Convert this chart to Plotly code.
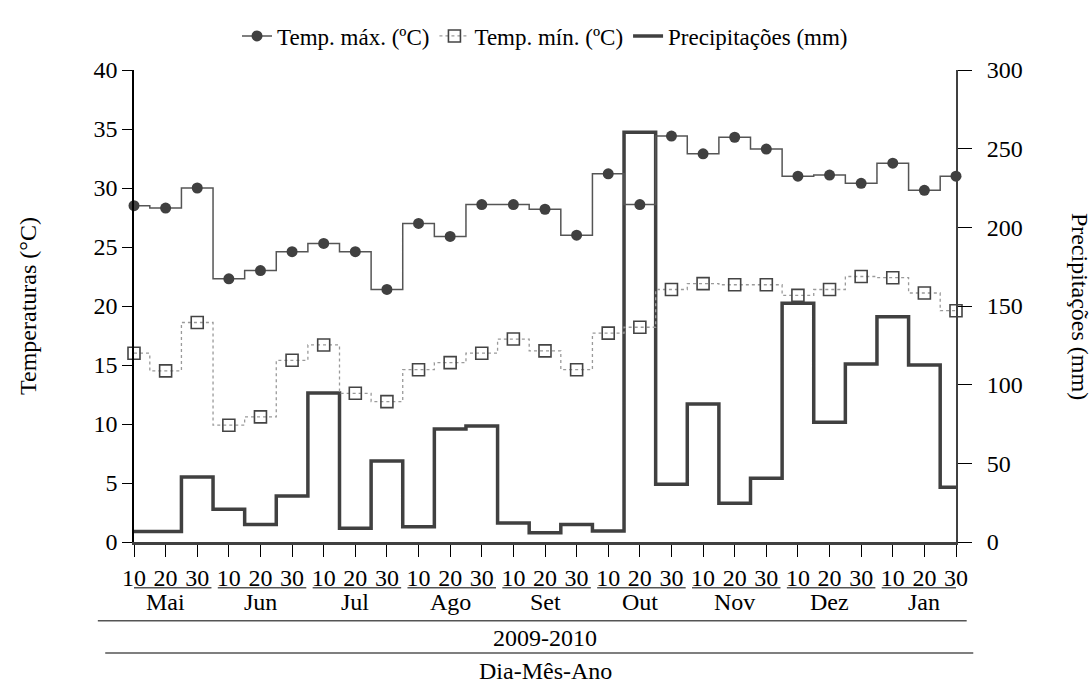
import plotly.graph_objects as go

# ---- data ----
months = ["Mai", "Jun", "Jul", "Ago", "Set", "Out", "Nov", "Dez", "Jan"]
days = ["10", "20", "30"]
tmax = [28.5, 28.3, 30.0, 22.3, 23.0, 24.6, 25.3, 24.6, 21.4, 27.0, 25.9, 28.6, 28.6, 28.2,
        26.0, 31.2, 28.6, 34.4, 32.9, 34.3, 33.3, 31.0, 31.1, 30.4, 32.1, 29.8, 31.0]
tmin = [16.0, 14.5, 18.6, 9.9, 10.6, 15.4, 16.7, 12.6, 11.9, 14.6, 15.2, 16.0, 17.2, 16.2,
        14.6, 17.7, 18.2, 21.4, 21.9, 21.8, 21.8, 20.9, 21.4, 22.5, 22.4, 21.1, 19.6]
precip = [6.6, 6.6, 41.3, 20.8, 11.2, 29.2, 94.7, 8.7, 51.5, 9.7, 71.8, 73.7, 12.1, 5.9,
          11.2, 7.0, 260.5, 36.7, 87.7, 24.6, 40.5, 151.7, 76.1, 113.2, 143.2, 112.5, 34.8]
period_label = "2009-2010"
xaxis_title = "Dia-Mês-Ano"
ytitle_left = "Temperaturas (°C)"
ytitle_right = "Precipitações (mm)"

x = list(range(len(tmax)))
ticktext = [d for _ in months for d in days]

FONT = "Liberation Serif, Times New Roman, serif"
DARK = "#404040"

fig = go.Figure()
fig.add_trace(go.Scatter(
    x=x, y=precip, name="Precipitações (mm)", mode="lines", yaxis="y",
    line=dict(color=DARK, width=3.5, shape="hvh"), legendrank=3, cliponaxis=False))
fig.add_trace(go.Scatter(
    x=x, y=tmin, name="Temp. mín. (ºC)", mode="lines+markers", yaxis="y2",
    line=dict(color="#9a9a9a", width=1.3, dash="dot", shape="hvh"),
    marker=dict(symbol="square-open", size=12, color="#444444", line=dict(width=1.6)),
    legendrank=2, cliponaxis=False))
fig.add_trace(go.Scatter(
    x=x, y=tmax, name="Temp. máx. (ºC)", mode="lines+markers", yaxis="y2",
    line=dict(color="#555555", width=1.5, shape="hvh"),
    marker=dict(symbol="circle", size=11, color=DARK),
    legendrank=1, cliponaxis=False))

fig.update_layout(
    width=1092, height=686,
    margin=dict(l=134, r=136, t=70, b=144),
    paper_bgcolor="white", plot_bgcolor="white",
    font=dict(family=FONT, size=24, color="black"),
    showlegend=True,
    legend=dict(orientation="h", x=0.5, xanchor="center", y=1.072, yanchor="middle",
                font=dict(size=23), itemwidth=30, tracegroupgap=0),
    xaxis=dict(range=[0, 26], tickvals=x, ticktext=ticktext, ticks="outside", ticklen=12,
               tickwidth=1.2, tickcolor="black", showline=True, linecolor=DARK, linewidth=2.5,
               showgrid=False, zeroline=False, tickfont=dict(size=24), tickangle=0),
    yaxis=dict(range=[0, 300], dtick=50, side="right", ticks="outside", ticklen=14,
               tickwidth=1.2, tickcolor="black", showline=True, linecolor=DARK, linewidth=2,
               showgrid=False, zeroline=False, tickfont=dict(size=24),
               ticklabelstandoff=10),
    yaxis2=dict(range=[0, 40], dtick=5, side="left", overlaying="y", ticks="outside",
                ticklen=10, tickwidth=1.2, tickcolor="black", showline=True,
                linecolor="black", linewidth=1.5, showgrid=False, zeroline=False,
                tickfont=dict(size=24)),
)

annotations = []
shapes = []
for k, m in enumerate(months):
    annotations.append(dict(x=3 * k + 1, y=-0.127, xref="x", yref="paper", text=m,
                            showarrow=False, xanchor="center", yanchor="middle",
                            font=dict(size=24)))
    shapes.append(dict(type="line", xref="x", yref="paper", x0=3 * k - 0.35,
                       x1=3 * k + 2.45, y0=-0.097, y1=-0.097,
                       line=dict(color="#555555", width=1.5)))
shapes.append(dict(type="line", xref="paper", yref="paper", x0=-0.044, x1=1.013,
                   y0=-0.167, y1=-0.167, line=dict(color="#555555", width=1.5)))
shapes.append(dict(type="line", xref="paper", yref="paper", x0=-0.035, x1=1.021,
                   y0=-0.235, y1=-0.235, line=dict(color="#555555", width=1.5)))
annotations.append(dict(x=0.5, y=-0.203, xref="paper", yref="paper", text=period_label,
                        showarrow=False, xanchor="center", yanchor="middle",
                        font=dict(size=24)))
annotations.append(dict(x=0.5, y=-0.274, xref="paper", yref="paper", text=xaxis_title,
                        showarrow=False, xanchor="center", yanchor="middle",
                        font=dict(size=24)))
annotations.append(dict(x=-0.129, y=0.5, xref="paper", yref="paper", text=ytitle_left,
                        showarrow=False, textangle=-90, xanchor="center", yanchor="middle",
                        font=dict(size=24)))
annotations.append(dict(x=1.151, y=0.5, xref="paper", yref="paper", text=ytitle_right,
                        showarrow=False, textangle=90, xanchor="center", yanchor="middle",
                        font=dict(size=24)))
fig.update_layout(annotations=annotations, shapes=shapes)

fig.write_html("out.html")
